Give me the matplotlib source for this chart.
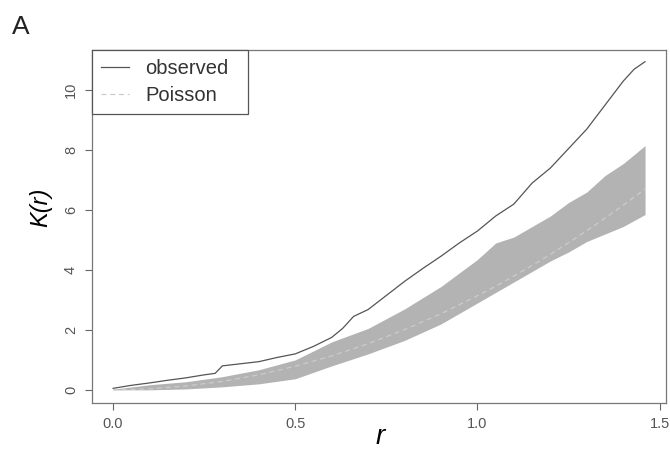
import matplotlib
matplotlib.use("Agg")
import matplotlib.pyplot as plt

plt.rcParams['font.family'] = ['Liberation Sans', 'DejaVu Sans']

# observed K-function
obs_r = [0.0, 0.05, 0.1, 0.15, 0.2, 0.25, 0.28, 0.3, 0.35, 0.4, 0.45, 0.5,
         0.55, 0.6, 0.63, 0.66, 0.7, 0.75, 0.8, 0.85, 0.9, 0.95, 1.0, 1.05,
         1.1, 1.15, 1.2, 1.25, 1.3, 1.35, 1.4, 1.43, 1.46]
obs_k = [0.05, 0.15, 0.23, 0.32, 0.4, 0.5, 0.55, 0.8, 0.87, 0.94, 1.08, 1.2,
         1.45, 1.75, 2.05, 2.45, 2.68, 3.15, 3.62, 4.05, 4.46, 4.9, 5.3, 5.8,
         6.2, 6.9, 7.4, 8.05, 8.7, 9.5, 10.3, 10.7, 10.95]

# Poisson envelope and theoretical curve
env_r = [0.0, 0.1, 0.2, 0.3, 0.4, 0.5, 0.6, 0.7, 0.8, 0.9, 1.0, 1.05, 1.1,
         1.15, 1.2, 1.25, 1.3, 1.35, 1.4, 1.46]
env_hi = [0.02, 0.17, 0.27, 0.44, 0.67, 1.0, 1.6, 2.05, 2.7, 3.45, 4.35, 4.9,
          5.1, 5.45, 5.8, 6.25, 6.6, 7.15, 7.55, 8.15]
env_lo = [0.0, 0.0, 0.03, 0.1, 0.2, 0.37, 0.8, 1.2, 1.65, 2.2, 2.9, 3.25,
          3.6, 3.95, 4.3, 4.6, 4.95, 5.2, 5.45, 5.85]
pois_k = [0.0, 0.03, 0.13, 0.28, 0.5, 0.79, 1.13, 1.54, 2.01, 2.54, 3.14,
          3.46, 3.8, 4.15, 4.52, 4.91, 5.31, 5.73, 6.16, 6.7]

fig = plt.figure(figsize=(6.7, 4.54), dpi=100)
ax = fig.add_axes([0.1373, 0.1123, 0.857, 0.7775])

ax.fill_between(env_r, env_lo, env_hi, color='#b3b3b3', linewidth=0)
ax.plot(obs_r, obs_k, color='#555555', lw=0.9, label='observed')
ax.plot(env_r, pois_k, color='#cccccc', lw=0.9, ls=(0, (4, 3)), label='Poisson')

ax.set_xlim(-0.058, 1.518)
ax.set_ylim(-0.44, 11.34)
ax.set_xticks([0.0, 0.5, 1.0, 1.5])
ax.set_xticklabels(['0.0', '0.5', '1.0', '1.5'])
ax.set_yticks([0, 2, 4, 6, 8, 10])
for lab in ax.get_yticklabels():
    lab.set_rotation(90)
    lab.set_va('center')
ax.tick_params(length=5, width=0.8, color='#666666', labelcolor='#555555',
               labelsize=10.5, pad=5)
for s in ax.spines.values():
    s.set_color('#777777')
    s.set_linewidth(0.9)

ax.set_xlabel('r', fontsize=20, style='italic', va='center')
ax.xaxis.set_label_coords(0.502, -0.095)
ax.set_ylabel('K(r)', fontsize=17, style='italic')
ax.yaxis.set_label_coords(-0.07, 0.555)

# legend box sits in the top-left corner, 156 px wide
leg = ax.legend(loc='upper left', bbox_to_anchor=(0, 1, 156 / 574, 0),
                mode='expand', borderaxespad=0,
                fancybox=False, edgecolor='#555555', framealpha=1,
                fontsize=14.5, handlelength=1.4, handletextpad=0.8,
                borderpad=0.45, labelspacing=0.4)
leg.get_frame().set_linewidth(0.9)
for t in leg.get_texts():
    t.set_color('#333333')

fig.text(0.018, 0.94, 'A', fontsize=19, color='#222222', va='center')

fig.savefig('out.png', dpi=100)
